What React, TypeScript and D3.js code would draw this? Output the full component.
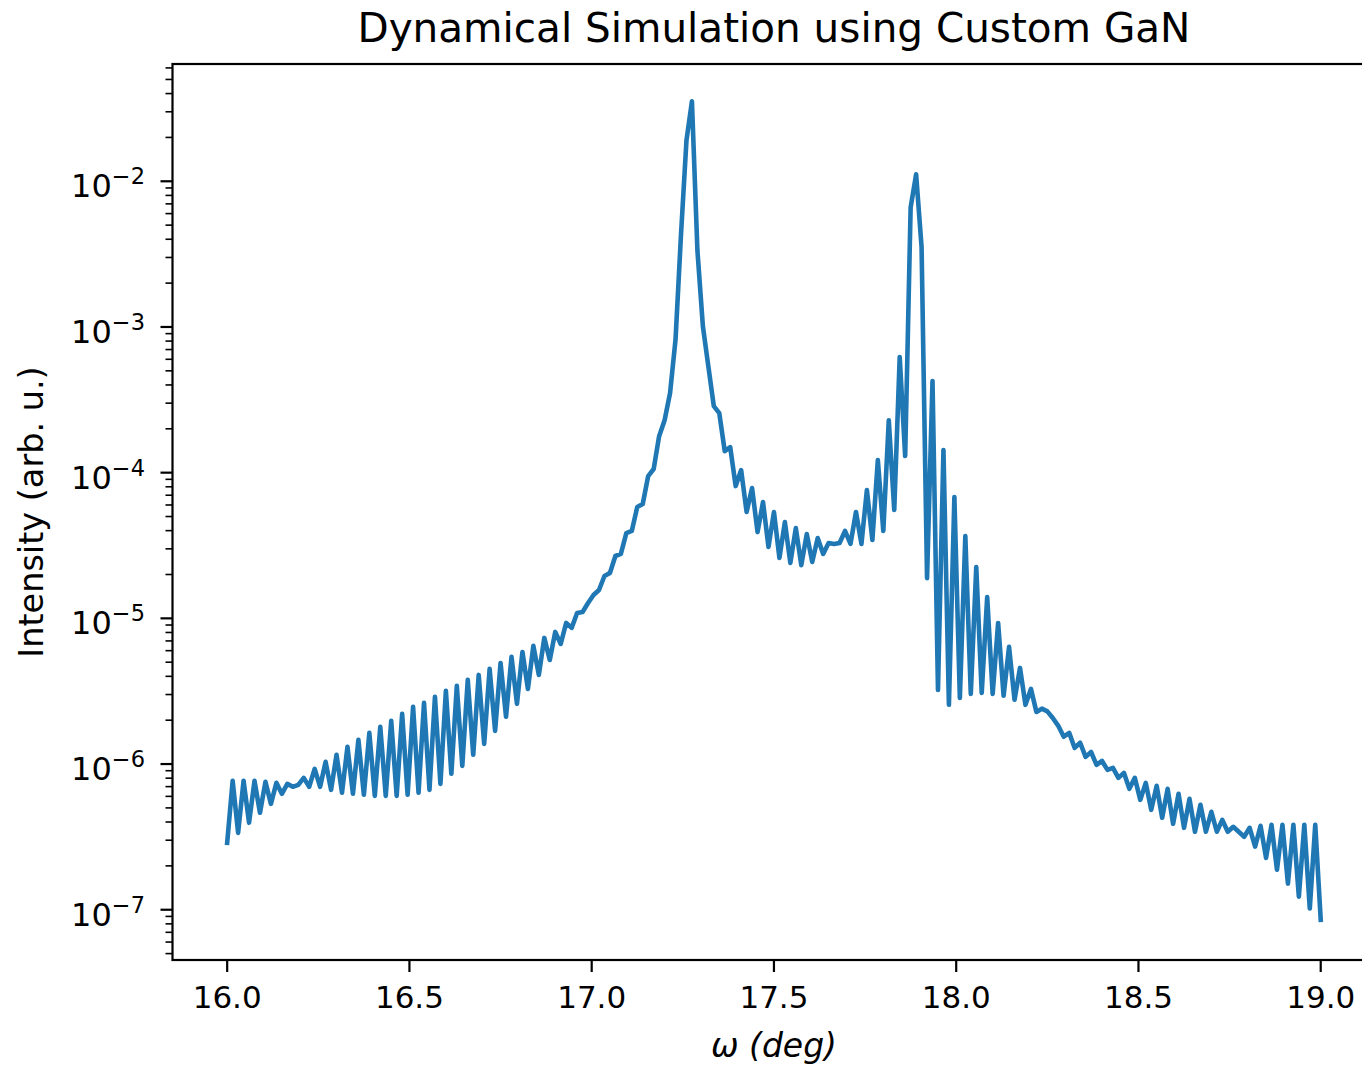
import React from "react";
import * as d3 from "d3";

// ---- data ----
const OMEGA_START = 16.0;
const OMEGA_STEP = 0.015;

const intensity: number[] = [
  2.88e-7, 7.67e-7, 3.37e-7, 7.67e-7, 3.95e-7, 7.67e-7, 4.63e-7, 7.55e-7, 5.33e-7, 7.43e-7,
  6.25e-7, 7.31e-7, 6.98e-7, 7.2e-7, 8.04e-7, 6.98e-7, 9.27e-7, 6.98e-7, 1.035e-6, 6.65e-7,
  1.157e-6, 6.35e-7, 1.312e-6, 6.25e-7, 1.466e-6, 6.15e-7, 1.637e-6, 6.05e-7, 1.8e-6, 6.05e-7,
  1.98e-6, 6.05e-7, 2.21e-6, 6.15e-7, 2.47e-6, 6.35e-7, 2.63e-6, 6.65e-7, 2.89e-6, 7.31e-7,
  3.18e-6, 8.57e-7, 3.44e-6, 9.72e-7, 3.78e-6, 1.157e-6, 4.09e-6, 1.375e-6, 4.5e-6, 1.69e-6,
  4.94e-6, 2.11e-6, 5.44e-6, 2.59e-6, 5.88e-6, 3.28e-6, 6.47e-6, 4.09e-6, 7.34e-6, 5.18e-6,
  8.07e-6, 6.67e-6, 9.3e-6, 8.6e-6, 1.089e-5, 1.106e-5, 1.275e-5, 1.447e-5, 1.566e-5, 1.954e-5,
  2.05e-5, 2.68e-5, 2.77e-5, 3.85e-5, 3.98e-5, 5.81e-5, 6.09e-5, 9.48e-5, 1.059e-4, 1.78e-4,
  2.29e-4, 3.52e-4, 8.2e-4, 4.3e-3, 1.91e-2, 3.54e-2, 3.36e-3, 1.013e-3, 5.38e-4, 2.86e-4,
  2.56e-4, 1.406e-4, 1.498e-4, 8.09e-5, 1.042e-4, 5.37e-5, 7.84e-5, 3.91e-5, 6.29e-5, 3.09e-5,
  5.37e-5, 2.6e-5, 4.58e-5, 2.4e-5, 4.17e-5, 2.32e-5, 3.79e-5, 2.44e-5, 3.56e-5, 2.77e-5,
  3.29e-5, 3.24e-5, 3.29e-5, 3.98e-5, 3.24e-5, 5.37e-5, 3.24e-5, 7.6e-5, 3.45e-5, 1.22e-4,
  3.98e-5, 2.29e-4, 5.54e-5, 6.21e-4, 1.3e-4, 6.63e-3, 1.117e-2, 3.53e-3, 1.89e-5, 4.25e-4,
  3.23e-6, 1.43e-4, 2.55e-6, 6.8e-5, 2.84e-6, 3.67e-5, 3.03e-6, 2.25e-5, 3.08e-6, 1.4e-5,
  3.03e-6, 9.3e-6, 2.94e-6, 6.37e-6, 2.76e-6, 4.57e-6, 2.55e-6, 3.28e-6, 2.28e-6, 2.4e-6,
  2.3e-6, 2.07e-6, 1.83e-6, 1.54e-6, 1.637e-6, 1.29e-6, 1.4e-6, 1.12e-6, 1.21e-6, 9.87e-7,
  1.05e-6, 9.12e-7, 9.42e-7, 8.04e-7, 8.7e-7, 6.76e-7, 8.04e-7, 5.68e-7, 7.43e-7, 4.85e-7,
  7.09e-7, 4.28e-7, 6.76e-7, 3.89e-7, 6.25e-7, 3.65e-7, 5.77e-7, 3.43e-7, 5.25e-7, 3.43e-7,
  4.7e-7, 3.43e-7, 4.14e-7, 3.43e-7, 3.71e-7, 3.43e-7, 3.17e-7, 3.65e-7, 2.71e-7, 3.77e-7,
  2.27e-7, 3.83e-7, 1.88e-7, 3.83e-7, 1.51e-7, 3.83e-7, 1.23e-7, 3.83e-7, 1.02e-7, 3.83e-7,
  8.54e-8,
];

const xTickValues = [16.0, 16.5, 17.0, 17.5, 18.0, 18.5, 19.0];
const yTickExponents = [-7, -6, -5, -4, -3, -2];

const TITLE = "Dynamical Simulation using Custom GaN";
const X_LABEL = "ω (deg)";
const Y_LABEL = "Intensity (arb. u.)";

// ---- layout ----
const W = 1362;
const H = 1070;
const LEFT = 172.5;
const RIGHT = 1375.4;
const TOP = 64;
const BOTTOM = 960;
const FONT = "'DejaVu Sans', 'Liberation Sans', sans-serif";
const LINE_COLOR = "#1f77b4";

export default function App() {
  const data = intensity.map((v, i) => ({ x: OMEGA_START + i * OMEGA_STEP, y: v }));

  const x = d3.scaleLinear().domain([15.85, 19.15]).range([LEFT, RIGHT]);
  const y = d3
    .scaleLog()
    .domain([Math.pow(10, -7.345), Math.pow(10, -1.195)])
    .range([BOTTOM, TOP]);

  const line = d3
    .line<{ x: number; y: number }>()
    .x((d) => x(d.x))
    .y((d) => y(d.y));

  const [yMin, yMax] = y.domain();
  const minorTicks: number[] = [];
  for (let e = -8; e <= -1; e++) {
    for (let k = 2; k <= 9; k++) {
      const v = k * Math.pow(10, e);
      if (v >= yMin && v <= yMax) minorTicks.push(v);
    }
  }

  return (
    <svg
      width={W}
      height={H}
      style={{ position: "absolute", left: 0, top: 0, background: "#fff" }}
      fontFamily={FONT}
    >
      <defs>
        <clipPath id="plotclip">
          <rect x={LEFT} y={TOP} width={RIGHT - LEFT} height={BOTTOM - TOP} />
        </clipPath>
      </defs>
      <rect x={0} y={0} width={W} height={H} fill="#fff" />

      {/* data line */}
      <path
        d={line(data) || ""}
        fill="none"
        stroke={LINE_COLOR}
        strokeWidth={4.6}
        strokeLinejoin="round"
        strokeLinecap="square"
        clipPath="url(#plotclip)"
      />

      {/* spines */}
      <rect
        x={LEFT}
        y={TOP}
        width={RIGHT - LEFT}
        height={BOTTOM - TOP}
        fill="none"
        stroke="#000"
        strokeWidth={2.2}
      />

      {/* x ticks */}
      {xTickValues.map((t) => (
        <g key={"xt" + t}>
          <line x1={x(t)} x2={x(t)} y1={BOTTOM} y2={BOTTOM + 12} stroke="#000" strokeWidth={2.2} />
          <text x={x(t)} y={1008} textAnchor="middle" fontSize={31} fill="#000">
            {t.toFixed(1)}
          </text>
        </g>
      ))}

      {/* y minor ticks */}
      {minorTicks.map((v, i) => (
        <line
          key={"ym" + i}
          x1={LEFT - 7}
          x2={LEFT}
          y1={y(v)}
          y2={y(v)}
          stroke="#000"
          strokeWidth={1.6}
        />
      ))}

      {/* y major ticks */}
      {yTickExponents.map((e) => {
        const py = y(Math.pow(10, e));
        return (
          <g key={"yt" + e}>
            <line x1={LEFT - 12} x2={LEFT} y1={py} y2={py} stroke="#000" strokeWidth={2.2} />
            <text x={145} y={py + 16} textAnchor="end" fontSize={32} fill="#000">
              <tspan>10</tspan>
              <tspan dy={-13} fontSize={22.5}>
                {"\u2212" + Math.abs(e)}
              </tspan>
            </text>
          </g>
        );
      })}

      {/* title */}
      <text x={(LEFT + RIGHT) / 2} y={42} textAnchor="middle" fontSize={40.5} fill="#000">
        {TITLE}
      </text>

      {/* x label */}
      <text
        x={(LEFT + RIGHT) / 2}
        y={1057}
        textAnchor="middle"
        fontSize={33}
        fontStyle="italic"
        fill="#000"
      >
        {X_LABEL}
      </text>

      {/* y label */}
      <text
        transform={`translate(43, ${(TOP + BOTTOM) / 2}) rotate(-90)`}
        textAnchor="middle"
        fontSize={33.5}
        fill="#000"
      >
        {Y_LABEL}
      </text>
    </svg>
  );
}
